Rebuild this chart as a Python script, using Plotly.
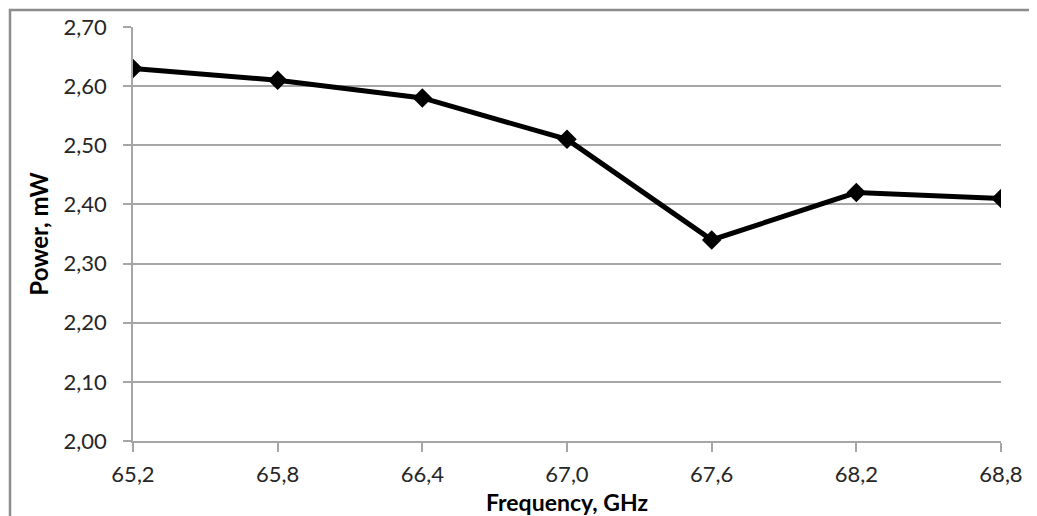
import plotly.graph_objects as go

# frequency points (GHz) and measured power (mW)
frequency = [65.2, 65.8, 66.4, 67.0, 67.6, 68.2, 68.8]
power = [2.63, 2.61, 2.58, 2.51, 2.34, 2.42, 2.41]

y_ticks = [2.00, 2.10, 2.20, 2.30, 2.40, 2.50, 2.60, 2.70]

grid_col = "#a6a6a6"
font_name = "Lato"

fig = go.Figure(go.Scatter(
    x=frequency, y=power,
    mode="lines+markers",
    line=dict(color="black", width=5),
    marker=dict(symbol="diamond", size=15, color="black"),
    showlegend=False,
))

fig.update_xaxes(
    range=[65.2, 68.8], tickvals=frequency, tickformat=".1f",
    showgrid=False, zeroline=False, automargin=False,
    showline=True, linecolor=grid_col, linewidth=1.5,
    ticks="outside", ticklen=9, tickcolor=grid_col, tickwidth=1.5,
    ticklabelstandoff=4,
    tickfont=dict(family=font_name, size=22, color="#262626"),
)
fig.update_yaxes(
    range=[2.0, 2.7], tickvals=y_ticks, tickformat=".2f",
    showgrid=True, gridcolor=grid_col, gridwidth=1.5, zeroline=False,
    automargin=False,
    showline=True, linecolor=grid_col, linewidth=1.5,
    ticks="outside", ticklen=8, tickcolor=grid_col, tickwidth=1.5,
    ticklabelstandoff=12,
    tickfont=dict(family=font_name, size=22, color="#262626"),
    title=dict(text="<b>Power, mW</b>", standoff=8,
               font=dict(family=font_name, size=24, color="black")),
)

# x title sits tight under the tick labels, so it is an annotation
fig.add_annotation(
    text="<b>Frequency, GHz</b>", xref="paper", yref="paper",
    x=0.5, y=-0.147, xanchor="center", yanchor="middle", showarrow=False,
    font=dict(family=font_name, size=23, color="black"),
)

# page body has an 8px margin, so the figure is made 8px smaller and shifted
fig.update_layout(
    width=1029, height=508,
    margin=dict(l=125, r=36, t=19, b=75),
    paper_bgcolor="white", plot_bgcolor="white",
    separators=",.",
    shapes=[dict(type="rect", xref="paper", yref="paper",
                 x0=-0.1417, x1=1.08, y0=-0.3, y1=1.041,
                 line=dict(color="#8c8c8c", width=2.5), layer="below")],
)

fig.write_html("out.html")
